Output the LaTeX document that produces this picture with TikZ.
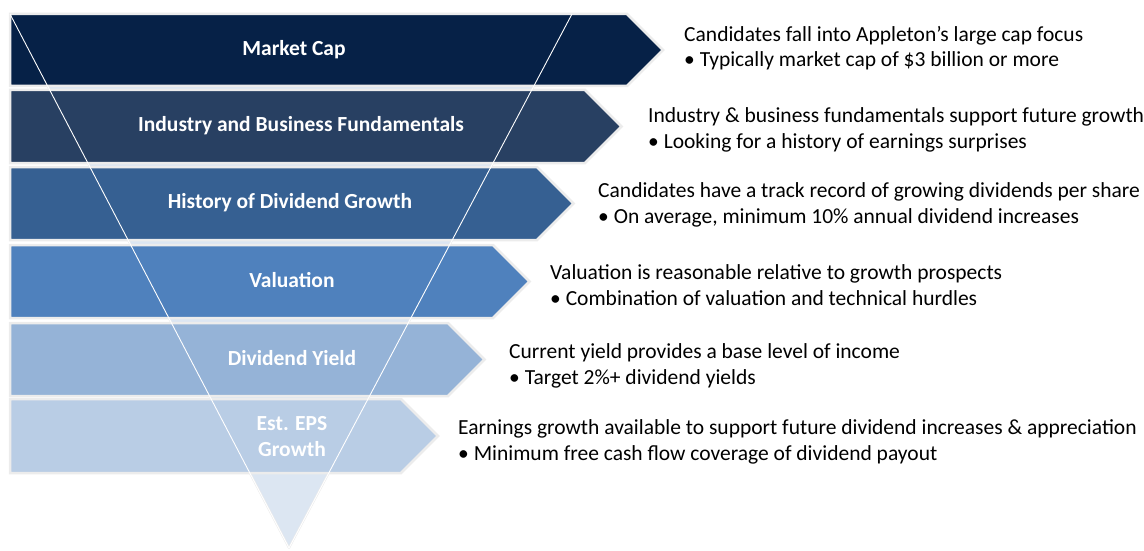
\documentclass[tikz,border=0pt]{standalone}
\usepackage{fontspec}
\setmainfont{Carlito}
\definecolor{bandA}{HTML}{062147}
\definecolor{bandB}{HTML}{284062}
\definecolor{bandC}{HTML}{366092}
\definecolor{bandD}{HTML}{4F81BD}
\definecolor{bandE}{HTML}{95B3D7}
\definecolor{bandF}{HTML}{B9CDE5}
\definecolor{tipfill}{HTML}{DCE6F2}
\definecolor{edgegrey}{HTML}{ECECEC}
\tikzset{
  bandshape/.style={line width=2.5pt, draw=edgegrey, line join=miter},
  bandlabel/.style={text=white, font=\bfseries\fontsize{21.5}{26}\selectfont, align=center, inner sep=0pt},
  desc/.style={anchor=west, align=left, font=\fontsize{21.5}{25.5}\selectfont, inner sep=0pt, text=black},
  funnelline/.style={draw=white, line width=0.9pt}
}
\newcommand{\bandpath}[4]{%
  \path[bandshape, fill=#4] (10,#1) -- (#3,#1) -- ({#3+(#2-#1)/2},{(#1+#2)/2}) -- (#3,#2) -- (10,#2) -- cycle;}
\begin{document}
\begin{tikzpicture}[x=1pt,y=-1pt]
\useasboundingbox (0,0) rectangle (1144,551);
% funnel fill
\coordinate (fl) at (10,14);
\coordinate (fr) at (572,14);
\coordinate (fa) at (289,548);
\path[fill=tipfill, draw=edgegrey, line width=2pt, line join=round] (fl) -- (fr) -- (fa) -- cycle;
% bands
\bandpath{14}{86}{627}{bandA}
\bandpath{90}{163}{585}{bandB}
\bandpath{167}{240}{537}{bandC}
\bandpath{245}{318}{493}{bandD}
\bandpath{323}{396}{448}{bandE}
\bandpath{399}{473}{401}{bandF}
% funnel outline
\draw[funnelline] (fl) -- (fa) -- (fr);
% labels
\node[bandlabel] (l1) at (294,50) {Market Cap};
\node[bandlabel] (l2) at (301,126) {Industry and Business Fundamentals};
\node[bandlabel] (l3) at (290,203) {History of Dividend Growth};
\node[bandlabel] (l4) at (292,280) {Valuation};
\node[bandlabel] (l5) at (292,358) {Dividend Yield};
\node[bandlabel] (l6) at (292,437) {Est. EPS\\Growth};
% descriptions
\node[desc] (d1) at (684,48) {Candidates fall into Appleton’s large cap focus\\\textbullet\ Typically market cap of \$3 billion or more};
\node[desc] (d2) at (648,130) {Industry \& business fundamentals support future growth\\\textbullet\ Looking for a history of earnings surprises};
\node[desc] (d3) at (598,205) {Candidates have a track record of growing dividends per share\\\textbullet\ On average, minimum 10\% annual dividend increases};
\node[desc] (d4) at (550,285) {Valuation is reasonable relative to growth prospects\\\textbullet\ Combination of valuation and technical hurdles};
\node[desc] (d5) at (509,366) {Current yield provides a base level of income\\\textbullet\ Target 2\%+ dividend yields};
\node[desc] (d6) at (458,442) {Earnings growth available to support future dividend increases \& appreciation\\\textbullet\ Minimum free cash flow coverage of dividend payout};
\end{tikzpicture}
\end{document}
